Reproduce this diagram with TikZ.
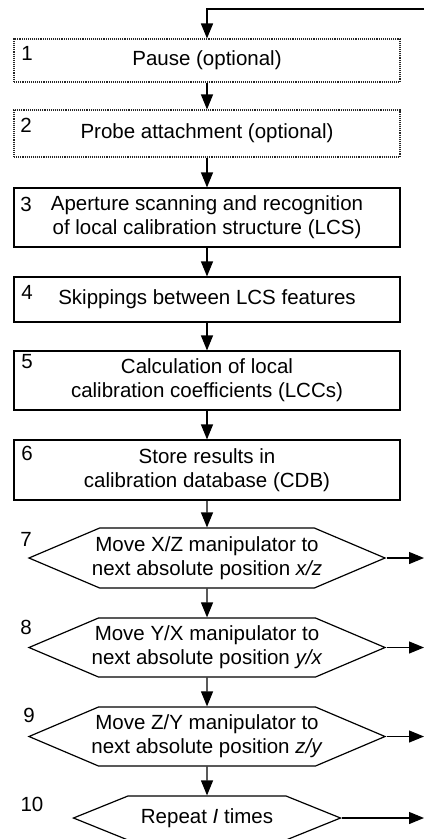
\documentclass[tikz,border=0pt]{standalone}
\usepackage{fontspec}
\setmainfont{Liberation Sans}
\usetikzlibrary{arrows.meta,shapes.symbols}

\begin{document}
\begin{tikzpicture}[x=1pt, y=-1pt, line width=1.2pt,
    txt/.style={font=\fontsize{20.5}{24}\selectfont},
    stepbox/.style={txt, draw, rectangle, minimum width=386pt, inner sep=0pt, align=center},
    optbox/.style={stepbox, draw=black!85, densely dotted, line width=1.1pt},
    movebox/.style={txt, draw, signal, signal to=west and east, signal pointer angle=46,
        minimum width=356pt, minimum height=60pt, inner ysep=0pt, inner xsep=-11pt, align=center},
    num/.style={txt, inner sep=0pt},
    arr/.style={-{Triangle[length=15pt,width=12pt]}}]
    \useasboundingbox (0,0) rectangle (424,839);

    % steps
    \node[optbox, minimum height=43pt] (b1) at (207,60.5) {Pause (optional)};
    \node[optbox, minimum height=47pt] (b2) at (207,133.5) {Probe attachment (optional)};
    \node[stepbox, minimum height=59pt] (b3) at (207,217.5) {Aperture scanning and recognition\\of local calibration structure (LCS)};
    \node[stepbox, minimum height=45pt] (b4) at (207,299.5) {Skippings between LCS features};
    \node[stepbox, minimum height=59pt] (b5) at (207,380.5) {Calculation of local\\calibration coefficients (LCCs)};
    \node[stepbox, minimum height=60pt] (b6) at (207,470) {Store results in\\calibration database (CDB)};
    \node[movebox] (h7) at (207,558) {Move X/Z manipulator to\\next absolute position \textit{x/z}};
    \node[movebox, minimum height=59pt] (h8) at (207,647.5) {Move Y/X manipulator to\\next absolute position \textit{y/x}};
    \node[movebox, minimum height=59pt] (h9) at (207,736.5) {Move Z/Y manipulator to\\next absolute position \textit{z/y}};
    \node[movebox, minimum width=267pt, minimum height=44pt, inner xsep=0pt, signal pointer angle=44] (h10) at (207,818) {Repeat \textit{I} times};

    % numbers
    \node[num] (n1) at (27,53) {1};
    \node[num] (n2) at (26,125) {2};
    \node[num] (n3) at (26,204) {3};
    \node[num] (n4) at (27,292) {4};
    \node[num] (n5) at (27,362) {5};
    \node[num] (n6) at (27,453) {6};
    \node[num] (n7) at (26,539) {7};
    \node[num] (n8) at (26,627) {8};
    \node[num] (n9) at (29,715) {9};
    \node[num] (n10) at (32,804) {10};

    % flow
    \coordinate (edge) at (424,9);
    \draw[arr, line width=1.6pt] (edge) -- (edge -| b1.north) -- (b1.north);
    \draw[arr] (b1) -- (b2);
    \draw[arr] (b2) -- (b3);
    \draw[arr] (b3) -- (b4);
    \draw[arr] (b4) -- (b5);
    \draw[arr] (b5) -- (b6);
    \draw[arr] (b6) -- (h7);
    \draw[arr] (h7) -- (h8);
    \draw[arr] (h8) -- (h9);
    \draw[arr] (h9) -- (h10);
    \draw[arr] (h7.east) -- (h7.east -| edge);
    \draw[arr] (h8.east) -- (h8.east -| edge);
    \draw[arr] (h9.east) -- (h9.east -| edge);
    \draw[arr] (h10.east) -- (h10.east -| edge);
\end{tikzpicture}
\end{document}
